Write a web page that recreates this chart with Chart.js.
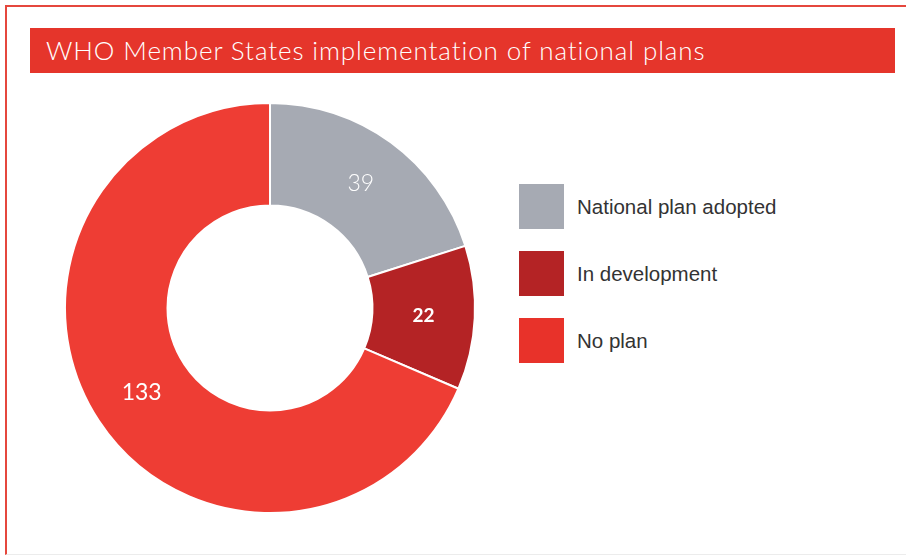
<!DOCTYPE html>
<html>
<head>
<meta charset="utf-8">
<script src="https://cdn.jsdelivr.net/npm/chart.js@4.4.1/dist/chart.umd.min.js"></script>
<style>
  body { margin: 0; background: #fff; width: 906px; height: 557px; overflow: hidden; position: relative; }
  #frame { position: absolute; left: 5px; top: 5px; width: 920px; height: 550px; border: 2px solid #e5473d; border-right: none;
           border-bottom: 1px solid #ececec; box-sizing: border-box; }
  #titre { position: absolute; left: 30px; top: 28px; width: 865px; height: 45px; background: #e5352b;
           color: #fff; font-family: Lato, sans-serif; font-weight: 300; font-size: 26px; line-height: 45px;
           padding-left: 16px; box-sizing: border-box; letter-spacing: 0.9px; }
  #grafico { position: absolute; left: 62px; top: 100px; width: 416px; height: 416px; }
  #legenda { position: absolute; left: 519px; top: 184px; font-family: "Liberation Sans", Arial, sans-serif; }
  .item { display: flex; align-items: center; height: 45px; margin-bottom: 22px; }
  .caixa { width: 45px; height: 45px; margin-right: 13px; }
  .texto { font-size: 20.5px; color: #333; }
</style>
</head>
<body>
<div id="frame"></div>
<div id="titre">WHO Member States implementation of national plans</div>
<div id="grafico"><canvas id="graficoRosca"></canvas></div>
<div id="legenda"></div>
<script>
const categorias = ['National plan adopted', 'In development', 'No plan'];
const valores = [39, 22, 133];
const cores = ['#a6aab3', '#b42325', '#ee3d34'];
const coresLegenda = ['#a6aab3', '#b42325', '#e8322a'];

window.onload = function() {
    montarLegenda();
    desenharGrafico();
};

function montarLegenda() {
    const legenda = document.getElementById('legenda');
    categorias.forEach((nome, i) => {
        const item = document.createElement('div');
        item.className = 'item';
        item.innerHTML = `<div class="caixa" style="background:${coresLegenda[i]}"></div><div class="texto">${nome}</div>`;
        legenda.appendChild(item);
    });
}

// escreve os valores dentro de cada fatia
const rotulos = {
    id: 'rotulos',
    afterDatasetsDraw(chart) {
        const ctx = chart.ctx;
        const pesos = ['300', '700', '400'];
        const tamanhos = [23, 19, 23];
        chart.getDatasetMeta(0).data.forEach((arco, i) => {
            const p = arco.tooltipPosition();
            ctx.save();
            ctx.fillStyle = '#fff';
            ctx.font = `${pesos[i]} ${tamanhos[i]}px Lato, sans-serif`;
            ctx.textAlign = 'center';
            ctx.textBaseline = 'middle';
            ctx.fillText(String(valores[i]), p.x, p.y);
            ctx.restore();
        });
    }
};

function desenharGrafico() {
    const ctx = document.getElementById('graficoRosca').getContext('2d');
    new Chart(ctx, {
        type: 'doughnut',
        data: {
            labels: categorias,
            datasets: [{
                data: valores,
                backgroundColor: cores,
                borderColor: '#fff',
                borderWidth: 2
            }]
        },
        options: {
            responsive: true,
            maintainAspectRatio: false,
            animation: false,
            cutout: '50%',
            layout: { padding: 2 },
            plugins: {
                legend: { display: false },
                tooltip: { enabled: false }
            }
        },
        plugins: [rotulos]
    });
}
</script>
</body>
</html>
